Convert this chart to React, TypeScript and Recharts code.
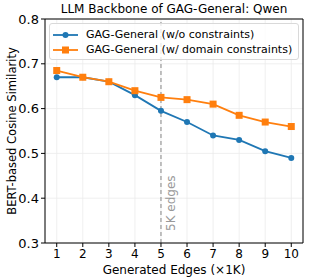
import { LineChart, Line, XAxis, YAxis, CartesianGrid, ReferenceLine, Label } from "recharts";

const edges = [1, 2, 3, 4, 5, 6, 7, 8, 9, 10];
const noConstraints = [0.67, 0.67, 0.66, 0.63, 0.595, 0.57, 0.54, 0.53, 0.505, 0.49];
const domainConstraints = [0.685, 0.67, 0.66, 0.64, 0.625, 0.62, 0.61, 0.585, 0.57, 0.56];
const yTicks = [0.3, 0.4, 0.5, 0.6, 0.7, 0.8];

const BLUE = "#1f77b4";
const ORANGE = "#ff7f0e";
const FONT = "DejaVu Sans, sans-serif";

const data = edges.map((e, i) => ({
  edges: e,
  base: noConstraints[i],
  domain: domainConstraints[i],
}));

function SquareDot(props: any) {
  const { cx, cy } = props;
  if (cx == null || cy == null) return null;
  return <rect x={cx - 3.5} y={cy - 3.5} width={7} height={7} fill={ORANGE} />;
}

function LegendBox() {
  const items = [
    { label: "GAG-General (w/o constraints)", color: BLUE, square: false },
    { label: "GAG-General (w/ domain constraints)", color: ORANGE, square: true },
  ];
  return (
    <div
      style={{
        position: "absolute",
        top: 23,
        left: 49,
        width: 250,
        height: 37,
        border: "1px solid #d9d9d9",
        borderRadius: 3,
        background: "rgba(255,255,255,0.8)",
        padding: "3px 3px",
        fontFamily: FONT,
        fontSize: 11,
        boxSizing: "border-box",
        whiteSpace: "nowrap",
      }}
    >
      {items.map((it) => (
        <div key={it.label} style={{ display: "flex", alignItems: "center", height: 15 }}>
          <svg width={25} height={10} style={{ marginRight: 8 }}>
            <line x1={0} y1={5} x2={25} y2={5} stroke={it.color} strokeWidth={1.8} />
            {it.square ? (
              <rect x={9} y={1.5} width={7} height={7} fill={it.color} />
            ) : (
              <circle cx={12.5} cy={5} r={3} fill={it.color} />
            )}
          </svg>
          <span style={{ color: "#000" }}>{it.label}</span>
        </div>
      ))}
    </div>
  );
}

export default function App() {
  return (
    <div style={{ position: "absolute", left: 0, top: 0, width: 309, height: 280, background: "#fff" }}>
      <div
        style={{
          position: "absolute",
          top: 2,
          left: 45,
          width: 258,
          textAlign: "center",
          fontFamily: FONT,
          fontSize: 12,
          color: "#000",
        }}
      >
        LLM Backbone of GAG-General: Qwen
      </div>
      <LineChart
        width={309}
        height={280}
        data={data}
        margin={{ top: 19, right: 6, bottom: 0, left: 0 }}
        style={{ fontFamily: FONT }}
      >
        <CartesianGrid stroke="#ebebeb" strokeWidth={0.8} />
        <XAxis
          dataKey="edges"
          type="number"
          domain={[0.55, 10.45]}
          ticks={edges}
          interval={0}
          tickSize={4}
          stroke="#000"
          tick={{ fill: "#000", fontSize: 12 }}
          height={37}
        >
          <Label value="Generated Edges (×1K)" position="insideBottom" offset={6} style={{ fill: "#000", fontSize: 12 }} />
        </XAxis>
        <YAxis
          type="number"
          domain={[0.3, 0.8]}
          ticks={yTicks}
          interval={0}
          tickSize={4}
          width={45}
          stroke="#000"
          tickFormatter={(v: number) => v.toFixed(1)}
          tick={{ fill: "#000", fontSize: 13 }}
        >
          <Label
            content={(p: any) => {
              const vb = p.viewBox;
              const x = 12;
              const y = vb.y + vb.height / 2;
              return (
                <text x={x} y={y} transform={`rotate(-90 ${x} ${y})`} fill="#000" fontSize={11.5} textAnchor="middle" dominantBaseline="central">
                  BERT-based Cosine Similarity
                </text>
              );
            }}
          />
        </YAxis>
        <ReferenceLine y={0.8} stroke="#000" />
        <ReferenceLine x={10.45} stroke="#000" />
        <ReferenceLine x={5} stroke="#999" strokeDasharray="4 3" strokeWidth={1.2}>
          <Label
            content={(p: any) => {
              const vb = p.viewBox;
              const x = vb.x + 10;
              const y = vb.y + vb.height - 12;
              return (
                <text x={x} y={y} transform={`rotate(-90 ${x} ${y})`} fill="#999" fontSize={12} textAnchor="start" dominantBaseline="central">
                  5K edges
                </text>
              );
            }}
          />
        </ReferenceLine>
        <Line
          dataKey="base"
          stroke={BLUE}
          strokeWidth={1.8}
          dot={{ r: 3, fill: BLUE, stroke: BLUE, strokeWidth: 0 }}
          isAnimationActive={false}
        />
        <Line
          dataKey="domain"
          stroke={ORANGE}
          strokeWidth={1.8}
          dot={<SquareDot />}
          isAnimationActive={false}
        />
      </LineChart>
      <LegendBox />
    </div>
  );
}
